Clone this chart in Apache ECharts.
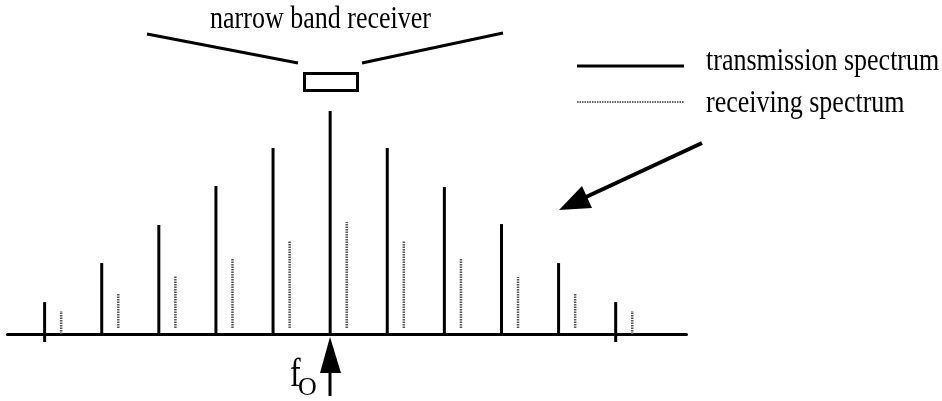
<!DOCTYPE html>
<html>
<head>
<meta charset="utf-8">
<script src="https://cdn.jsdelivr.net/npm/echarts@6/dist/echarts.min.js"></script>
<style>
  html, body { margin: 0; padding: 0; background: #fff; }
  #chart { width: 942px; height: 401px; }
</style>
</head>
<body>
<div id="chart"></div>
<script>
// harmonic index around f0
var harmonics = [-5, -4, -3, -2, -1, 0, 1, 2, 3, 4, 5];
// transmission spectrum (relative amplitude) and its lower end
var transTop = [0.143, 0.318, 0.489, 0.664, 0.834, 1.0, 0.834, 0.659, 0.493, 0.318, 0.143];
var transLow = [-0.036, 0, 0, 0, 0, 0, 0, 0, 0, 0, -0.036];
// receiving spectrum, drawn slightly to the right of each harmonic
var recvOffset = 0.29;
var recvTop = [0.103, 0.179, 0.26, 0.341, 0.417, 0.502, 0.417, 0.336, 0.256, 0.179, 0.103];
var recvLow = [0, 0.027, 0.027, 0.027, 0.027, 0.027, 0.027, 0.027, 0.027, 0.027, 0];

var serif = 'Liberation Serif';

var transData = harmonics.map(function (h, i) {
    return [h, transLow[i], transTop[i]];
});
var recvData = harmonics.map(function (h, i) {
    return [h + recvOffset, recvLow[i], recvTop[i]];
});

function stick(style) {
    return function (params, api) {
        var p1 = api.coord([api.value(0), api.value(1)]);
        var p2 = api.coord([api.value(0), api.value(2)]);
        return {
            type: 'line',
            shape: {x1: p1[0], y1: p1[1], x2: p2[0], y2: p2[1]},
            style: style
        };
    };
}

var chart = echarts.init(document.getElementById('chart'));
var option = {
    animation: false,
    backgroundColor: '#fff',
    grid: {
        left: 7.5,
        top: 55.25,
        width: 679,
        height: 334.5
    },
    xAxis: {
        type: 'value',
        min: -5.65,
        max: 6.24,
        axisLine: {show: true, onZero: true, lineStyle: {color: '#000', width: 3}},
        axisTick: {show: false},
        axisLabel: {show: false},
        splitLine: {show: false}
    },
    yAxis: {
        type: 'value',
        min: -0.25,
        max: 1.25,
        show: false,
        splitLine: {show: false}
    },
    series: [
        {
            name: 'transmission spectrum',
            type: 'custom',
            renderItem: stick({stroke: '#000', lineWidth: 3}),
            data: transData,
            z: 3
        },
        {
            name: 'receiving spectrum',
            type: 'custom',
            renderItem: stick({stroke: '#555', lineWidth: 2.5, lineDash: [1.5, 1]}),
            data: recvData,
            z: 3
        }
    ],
    graphic: [
        // receiver label and antenna
        {
            type: 'text', x: 320.5, y: 19, scaleY: 1.25,
            style: {text: 'narrow band receiver', fill: '#000', font: '26px "' + serif + '"',
                textAlign: 'center', textVerticalAlign: 'middle'}
        },
        {type: 'line', shape: {x1: 147, y1: 34, x2: 298, y2: 63}, style: {stroke: '#000', lineWidth: 3}},
        {type: 'line', shape: {x1: 362, y1: 63, x2: 503, y2: 33}, style: {stroke: '#000', lineWidth: 3}},
        {type: 'rect', shape: {x: 304.5, y: 73.5, width: 53, height: 17},
            style: {fill: '#fff', stroke: '#000', lineWidth: 3}},
        // legend
        {type: 'line', shape: {x1: 577, y1: 66, x2: 684, y2: 66}, style: {stroke: '#000', lineWidth: 3}},
        {
            type: 'text', x: 706, y: 61.7, scaleY: 1.25,
            style: {text: 'transmission spectrum', fill: '#000', font: '26px "' + serif + '"',
                textAlign: 'left', textVerticalAlign: 'middle'}
        },
        {type: 'line', shape: {x1: 577, y1: 102, x2: 684, y2: 102},
            style: {stroke: '#666', lineWidth: 2, lineDash: [1.5, 1]}},
        {
            type: 'text', x: 706, y: 103.5, scaleY: 1.25,
            style: {text: 'receiving spectrum', fill: '#000', font: '26px "' + serif + '"',
                textAlign: 'left', textVerticalAlign: 'middle'}
        },
        // arrow pointing at the spectrum
        {type: 'line', shape: {x1: 702, y1: 143, x2: 586, y2: 197}, style: {stroke: '#000', lineWidth: 4}},
        {type: 'polygon', shape: {points: [[559, 210], [582, 186], [592, 208]]}, style: {fill: '#000'}},
        // f0 marker
        {type: 'polygon', shape: {points: [[330, 337], [320, 373], [341, 373]]}, style: {fill: '#000'}},
        {type: 'line', shape: {x1: 330, y1: 372, x2: 330, y2: 396}, style: {stroke: '#000', lineWidth: 3}},
        {
            type: 'text', x: 290, y: 395, scaleY: 1.25,
            style: {text: 'f', fill: '#000', font: '32px "' + serif + '"',
                textAlign: 'left', textVerticalAlign: 'bottom'}
        },
        {
            type: 'text', x: 298, y: 401,
            style: {text: 'O', fill: '#000', font: '26px "' + serif + '"',
                textAlign: 'left', textVerticalAlign: 'bottom'}
        }
    ]
};
chart.setOption(option);
window.onresize = chart.resize;
</script>
</body>
</html>
